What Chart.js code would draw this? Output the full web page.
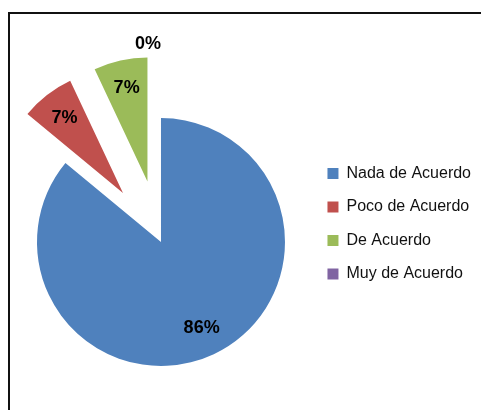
<!DOCTYPE html>
<html>
<head>
<meta charset="utf-8">
<script src="https://cdn.jsdelivr.net/npm/chart.js@4/dist/chart.umd.min.js"></script>
<style>
  html, body { margin: 0; padding: 0; background: #fff; }
  #wrap { position: relative; width: 481px; height: 410px; overflow: hidden; }
  #frame {
    position: absolute; left: 8px; top: 12px; width: 520px; height: 440px;
    border: 2px solid #111; box-sizing: border-box;
  }
  canvas { position: absolute; left: 0; top: 0; }
</style>
</head>
<body>
<div id="wrap">
  <div id="frame"></div>
  <canvas id="chart" width="481" height="410"></canvas>
</div>
<script>
// chart data (percent of answers)
const categories = ['Nada de Acuerdo', 'Poco de Acuerdo', 'De Acuerdo', 'Muy de Acuerdo'];
const values = [86, 7, 7, 0];
const colors = ['#4F81BD', '#C0504D', '#9BBB59', '#8064A2'];
const explode = [0, 248, 248, 248]; // chart.js moves slices by offset/4

const pieRadius = 124;

// chart.js grows and narrows exploded slices, undo that so they stay true sectors
const keepRadius = {
  id: 'keepRadius',
  afterDatasetUpdate(chart, args) {
    args.meta.data.forEach(arc => {
      const t = (arc.options.offset || 0) / 4;
      if (!t || !arc.circumference) return;
      const fix = 1 - Math.sin(Math.min(Math.PI, arc.circumference));
      const grow = t * fix;
      const R = arc.outerRadius;
      arc.outerRadius = R - grow;
      const narrow = grow / (Math.PI * R);
      arc.startAngle -= narrow / 2;
      arc.endAngle += narrow / 2;
    });
  }
};

// percent labels inside each slice
const sliceLabels = {
  id: 'sliceLabels',
  afterDatasetsDraw(chart) {
    const ctx = chart.ctx;
    const meta = chart.getDatasetMeta(0);
    const R = meta.controller.outerRadius;
    ctx.save();
    ctx.font = 'bold 18px "Liberation Sans", Arial, sans-serif';
    ctx.fillStyle = '#000';
    ctx.textBaseline = 'middle';
    meta.data.forEach((arc, i) => {
      const mid = (arc.startAngle + arc.endAngle) / 2;
      const t = (arc.options.offset || 0) / 4;
      const zero = values[i] === 0;
      const d = t + R * (zero ? 1.1 : 0.77);
      const x = arc.x + Math.cos(mid) * d;
      const y = arc.y + Math.sin(mid) * d;
      ctx.textAlign = zero ? 'right' : 'center';
      ctx.fillText(values[i] + '%', x, y);
    });
    ctx.restore();
  }
};

Chart.defaults.font.family = '"Liberation Sans", Arial, sans-serif';

new Chart(document.getElementById('chart'), {
  type: 'pie',
  data: {
    labels: categories,
    datasets: [{
      data: values,
      backgroundColor: colors,
      borderWidth: 0,
      offset: explode,
      hoverOffset: 0
    }]
  },
  options: {
    responsive: false,
    animation: false,
    radius: pieRadius,
    cutout: '0%',
    layout: { padding: { left: 12, right: 0, top: 148, bottom: 74 } },
    plugins: {
      tooltip: { enabled: false },
      legend: {
        position: 'right',
        align: 'start',
        labels: {
          boxWidth: 11,
          boxHeight: 11,
          padding: 17.5,
          color: '#111',
          font: { size: 16 }
        }
      }
    }
  },
  plugins: [keepRadius, sliceLabels]
});
</script>
</body>
</html>
